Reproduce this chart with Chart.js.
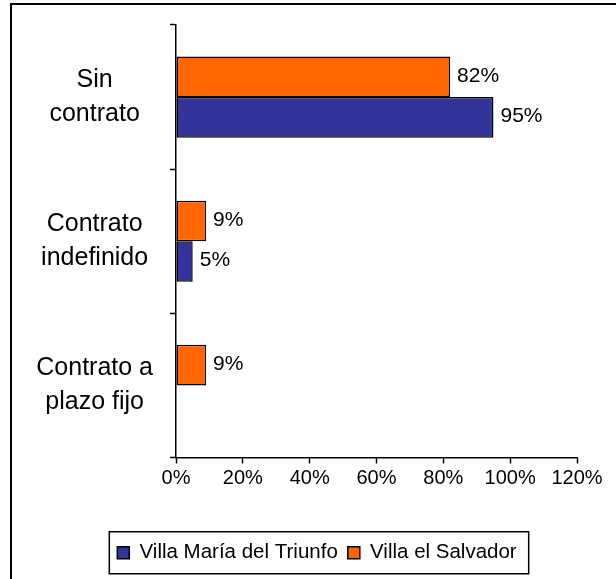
<!DOCTYPE html>
<html>
<head>
<meta charset="utf-8">
<script src="https://cdn.jsdelivr.net/npm/chart.js@4/dist/chart.umd.min.js"></script>
<style>
  html, body { margin: 0; padding: 0; background: #fff; }
  #wrap { width: 616px; height: 579px; }
</style>
</head>
<body>
<div id="wrap"><canvas id="chart"></canvas></div>
<script>
// data
const categories = [['Sin', 'contrato'], ['Contrato', 'indefinido'], ['Contrato a', 'plazo fijo']];
const seriesNames = ['Villa María del Triunfo', 'Villa el Salvador'];
const vmtValues = [95, 5, null];
const vesValues = [82, 9, 9];
const xTicks = [0, 20, 40, 60, 80, 100, 120];

const FONT = '"Liberation Sans", Arial, sans-serif';

// white page + frame of the original chart object
const framePlugin = {
  id: 'frame',
  beforeDraw(chart) {
    const ctx = chart.ctx;
    ctx.save();
    ctx.fillStyle = '#fff';
    ctx.fillRect(0, 0, chart.width, chart.height);
    ctx.strokeStyle = '#000';
    ctx.lineWidth = 2;
    ctx.strokeRect(11, 4, chart.width + 20, chart.height + 20);
    ctx.restore();
  }
};

// legend in the original is centred a bit right of the plot's own middle
const legendShift = {
  id: 'legendShift',
  afterLayout(chart) {
    const lg = chart.legend;
    if (!lg) return;
    const dx = 317 - (lg.left + lg.right) / 2;
    lg.left += dx;
    lg.right += dx;
  }
};

// value labels right of each bar
const valueLabels = {
  id: 'valueLabels',
  afterDatasetsDraw(chart) {
    const ctx = chart.ctx;
    ctx.save();
    ctx.font = '21px ' + FONT;
    ctx.fillStyle = '#000';
    ctx.textAlign = 'left';
    ctx.textBaseline = 'middle';
    chart.data.datasets.forEach((ds, di) => {
      chart.getDatasetMeta(di).data.forEach((bar, i) => {
        const v = ds.data[i];
        if (v == null) return;
        ctx.fillText(v + '%', bar.x + 7, bar.y - 1);
      });
    });
    ctx.restore();
  }
};

// box round the legend
const legendBox = {
  id: 'legendBox',
  afterDraw(chart) {
    const boxes = chart.legend && chart.legend.legendHitBoxes;
    if (!boxes || !boxes.length) return;
    const left = Math.min(...boxes.map(b => b.left)) - 8;
    const right = Math.max(...boxes.map(b => b.left + b.width)) + 12;
    const mid = boxes[0].top + boxes[0].height / 2;
    const ctx = chart.ctx;
    ctx.save();
    ctx.strokeStyle = '#000';
    ctx.lineWidth = 1.5;
    ctx.strokeRect(left, mid - 21, right - left, 42);
    ctx.restore();
  }
};

new Chart(document.getElementById('chart'), {
  type: 'bar',
  data: {
    labels: categories,
    datasets: [
      {
        label: seriesNames[1],
        data: vesValues,
        backgroundColor: '#FF6600',
        borderColor: '#000',
        borderWidth: 1.5,
        borderSkipped: false,
        categoryPercentage: 0.5625,
        barPercentage: 1
      },
      {
        label: seriesNames[0],
        data: vmtValues,
        backgroundColor: '#333399',
        borderColor: '#000',
        borderWidth: 1.5,
        borderSkipped: false,
        categoryPercentage: 0.5625,
        barPercentage: 1
      }
    ]
  },
  options: {
    indexAxis: 'y',
    responsive: true,
    maintainAspectRatio: false,
    animation: false,
    layout: { padding: { left: 10, right: 39, top: 25, bottom: 6 } },
    plugins: {
      legend: {
        position: 'bottom',
        labels: {
          font: { family: FONT, size: 20.5 },
          color: '#000',
          boxWidth: 12,
          boxHeight: 12,
          padding: 10,
          sort: (a, b) => b.datasetIndex - a.datasetIndex
        }
      },
      tooltip: { enabled: false }
    },
    scales: {
      x: {
        min: 0,
        max: 120,
        afterBuildTicks: s => { s.ticks = xTicks.map(v => ({ value: v })); },
        afterFit: s => { s.height = 75; },
        ticks: {
          color: '#000',
          font: { family: FONT, size: 20 },
          padding: 3,
          callback: v => v + '%'
        },
        grid: { drawOnChartArea: false, drawTicks: true, tickLength: 6, tickColor: '#000', tickWidth: 1.5 },
        border: { color: '#000', width: 1.5 }
      },
      y: {
        afterFit: s => { s.width = 166; s.paddingTop = 0; s.paddingBottom = 0; },
        ticks: {
          color: '#000',
          font: { family: FONT, size: 25, lineHeight: 1.36 },
          crossAlign: 'center',
          padding: 17
        },
        grid: { offset: true, drawOnChartArea: false, drawTicks: true, tickLength: 6, tickColor: '#000', tickWidth: 1.5 },
        border: { color: '#000', width: 1.5 }
      }
    }
  },
  plugins: [framePlugin, legendShift, valueLabels, legendBox]
});
</script>
</body>
</html>
